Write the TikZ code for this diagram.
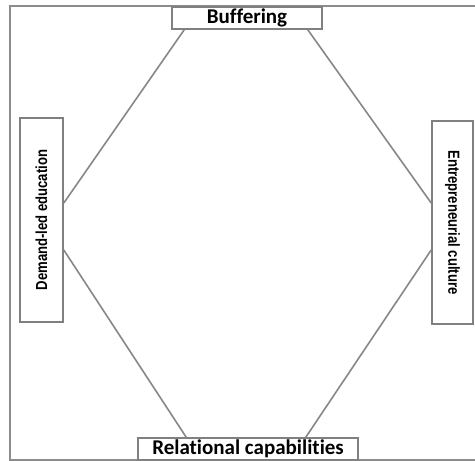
\documentclass[tikz,border=0pt]{standalone}
\usepackage{fontspec}
\setmainfont{Carlito}[Ligatures=NoCommon]
\newfontfamily\narrowfont{Liberation Sans}[FakeStretch=0.82]
\definecolor{framegray}{RGB}{140, 140, 140}
\definecolor{boxgray}{RGB}{128, 128, 128}
\definecolor{linkgray}{RGB}{135, 135, 135}
\usepackage{tikz}
\usetikzlibrary{positioning}

\begin{document}
\begin{tikzpicture}[x=1bp, y=-1bp,
  label box/.style={draw=boxgray, line width=1.6bp, fill=white, inner sep=0pt, font=\bfseries\fontsize{21bp}{23bp}\selectfont},
  side box/.style={draw=boxgray, line width=1.6bp, fill=white, inner sep=0pt, font=\narrowfont\bfseries\fontsize{16bp}{18bp}\selectfont},
  link/.style={draw=linkgray, line width=1.6bp}]
  \useasboundingbox (0, 0) rectangle (475, 461);

  % Outer frame (open on the right)
  \draw[framegray, line width=1.8bp] (476, 6) -- (10, 6) -- (10, 460) -- (476, 460);

  % Four boxes
  \node[label box, minimum width=150bp, minimum height=22bp] (buf) at (247, 18) {Buffering};
  \node[side box, minimum width=43bp, minimum height=204bp] (dem) at (41.5, 220) {\rotatebox{90}{Demand-led education}};
  \node[side box, minimum width=41bp, minimum height=203bp] (ent) at (452.5, 222.5) {\rotatebox{-90}{Entrepreneurial culture}};
  \node[label box, minimum width=220bp, minimum height=22bp] (rel) at (248, 449) {Relational capabilities};

  % Links
  \draw[link] ([xshift=13bp]buf.south west) -- ([yshift=17bp]dem.east);
  \draw[link] ([xshift=-15bp]buf.south east) -- ([yshift=19.5bp]ent.west);
  \draw[link] ([yshift=-30bp]dem.east) -- ([xshift=49bp]rel.north west);
  \draw[link] ([yshift=-27.5bp]ent.west) -- ([xshift=-53bp]rel.north east);
\end{tikzpicture}
\end{document}
